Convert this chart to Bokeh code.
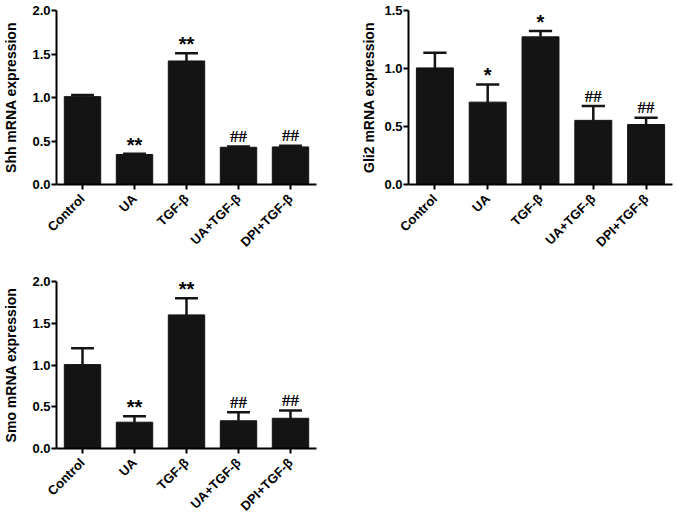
import math
from bokeh.plotting import figure
from bokeh.layouts import column, row
from bokeh.models import FixedTicker, Range1d, PrintfTickFormatter
from bokeh.embed import file_html
from bokeh.resources import INLINE
from bokeh.core.properties import value

categories = ["Control", "UA", "TGF-β", "UA+TGF-β", "DPI+TGF-β"]

shh_mean = [1.01, 0.345, 1.42, 0.428, 0.432]
shh_err = [0.02, 0.008, 0.09, 0.009, 0.012]
shh_marks = ["", "**", "**", "##", "##"]

gli2_mean = [1.005, 0.71, 1.273, 0.553, 0.517]
gli2_err = [0.13, 0.153, 0.05, 0.123, 0.058]
gli2_marks = ["", "*", "*", "##", "##"]

smo_mean = [1.005, 0.315, 1.60, 0.332, 0.362]
smo_err = [0.195, 0.07, 0.20, 0.103, 0.092]
smo_marks = ["", "**", "**", "##", "##"]

shh_ticks = [0.0, 0.5, 1.0, 1.5, 2.0]
gli2_ticks = [0.0, 0.5, 1.0, 1.5]
smo_ticks = [0.0, 0.5, 1.0, 1.5, 2.0]

BAR = "#141414"
FONT = "Liberation Sans"


def panel(mean, err, marks, ylabel, ticks, width, height, bl, br, bt, bb, lab_standoff):
    p = figure(width=width, height=height, output_backend="svg", toolbar_location=None,
               x_range=Range1d(-0.5, 4.5), y_range=Range1d(0, ticks[-1]),
               min_border_left=bl, min_border_right=br, min_border_top=bt, min_border_bottom=bb)
    p.outline_line_color = None
    p.xgrid.grid_line_color = None
    p.ygrid.grid_line_color = None
    xs = list(range(len(categories)))
    tops = [m + e for m, e in zip(mean, err)]
    p.vbar(x=xs, top=mean, bottom=0, width=0.7, fill_color=BAR, line_color=BAR, line_width=1)
    p.segment(x0=xs, y0=mean, x1=xs, y1=tops, line_color=BAR, line_width=2.5)
    p.segment(x0=[x - 0.22 for x in xs], y0=tops, x1=[x + 0.22 for x in xs], y1=tops,
              line_color=BAR, line_width=2.5)
    sx = [x for x, m in zip(xs, marks) if m.startswith("*")]
    sy = [t for t, m in zip(tops, marks) if m.startswith("*")]
    st = [m for m in marks if m.startswith("*")]
    p.text(x=sx, y=sy, text=st, text_align="center", text_baseline="alphabetic", y_offset=-9,
           text_font=value(FONT), text_font_style="bold", text_font_size="20px", text_color="black")
    hx = [x for x, m in zip(xs, marks) if m.startswith("#")]
    hy = [t for t, m in zip(tops, marks) if m.startswith("#")]
    ht = [m for m in marks if m.startswith("#")]
    p.text(x=hx, y=hy, text=ht, text_align="center", text_baseline="alphabetic", y_offset=-10,
           text_font=value("Liberation Serif"), text_font_style="bold", text_font_size="17px",
           text_color="black")

    for ax in (p.xaxis[0], p.yaxis[0]):
        ax.axis_line_width = 2
        ax.axis_line_color = "black"
        ax.major_tick_line_width = 2
        ax.major_tick_line_color = "black"
        ax.major_tick_out = 5
        ax.major_tick_in = 0
        ax.minor_tick_line_color = None
        ax.major_label_text_font = FONT
        ax.major_label_text_font_style = "bold"
        ax.major_label_text_font_size = "13px"
        ax.major_label_text_color = "black"
    p.xaxis.ticker = FixedTicker(ticks=xs)
    p.xaxis.major_label_overrides = {i: c for i, c in enumerate(categories)}
    p.xaxis.major_label_orientation = math.pi / 4
    p.xaxis.major_label_standoff = 7
    p.yaxis.ticker = FixedTicker(ticks=ticks)
    p.yaxis.formatter = PrintfTickFormatter(format="%.1f")
    p.yaxis.major_label_standoff = 1
    p.yaxis.axis_label = ylabel
    p.yaxis.axis_label_text_font = FONT
    p.yaxis.axis_label_text_font_style = "bold"
    p.yaxis.axis_label_text_font_size = "14px"
    p.yaxis.axis_label_text_color = "black"
    p.yaxis.axis_label_standoff = lab_standoff
    return p


p1 = panel(shh_mean, shh_err, shh_marks, "Shh mRNA expression", shh_ticks,
           346, 270, 53, 30, 10, 86, 10)
p2 = panel(gli2_mean, gli2_err, gli2_marks, "Gli2 mRNA expression", gli2_ticks,
           330, 270, 62, 4, 9, 86, 4)
p3 = panel(smo_mean, smo_err, smo_marks, "Smo mRNA expression", smo_ticks,
           346, 251, 53, 30, 11, 67, 10)

layout = column(row(p1, p2, spacing=0), p3, spacing=0)
open("out.html", "w").write(file_html(layout, INLINE))
